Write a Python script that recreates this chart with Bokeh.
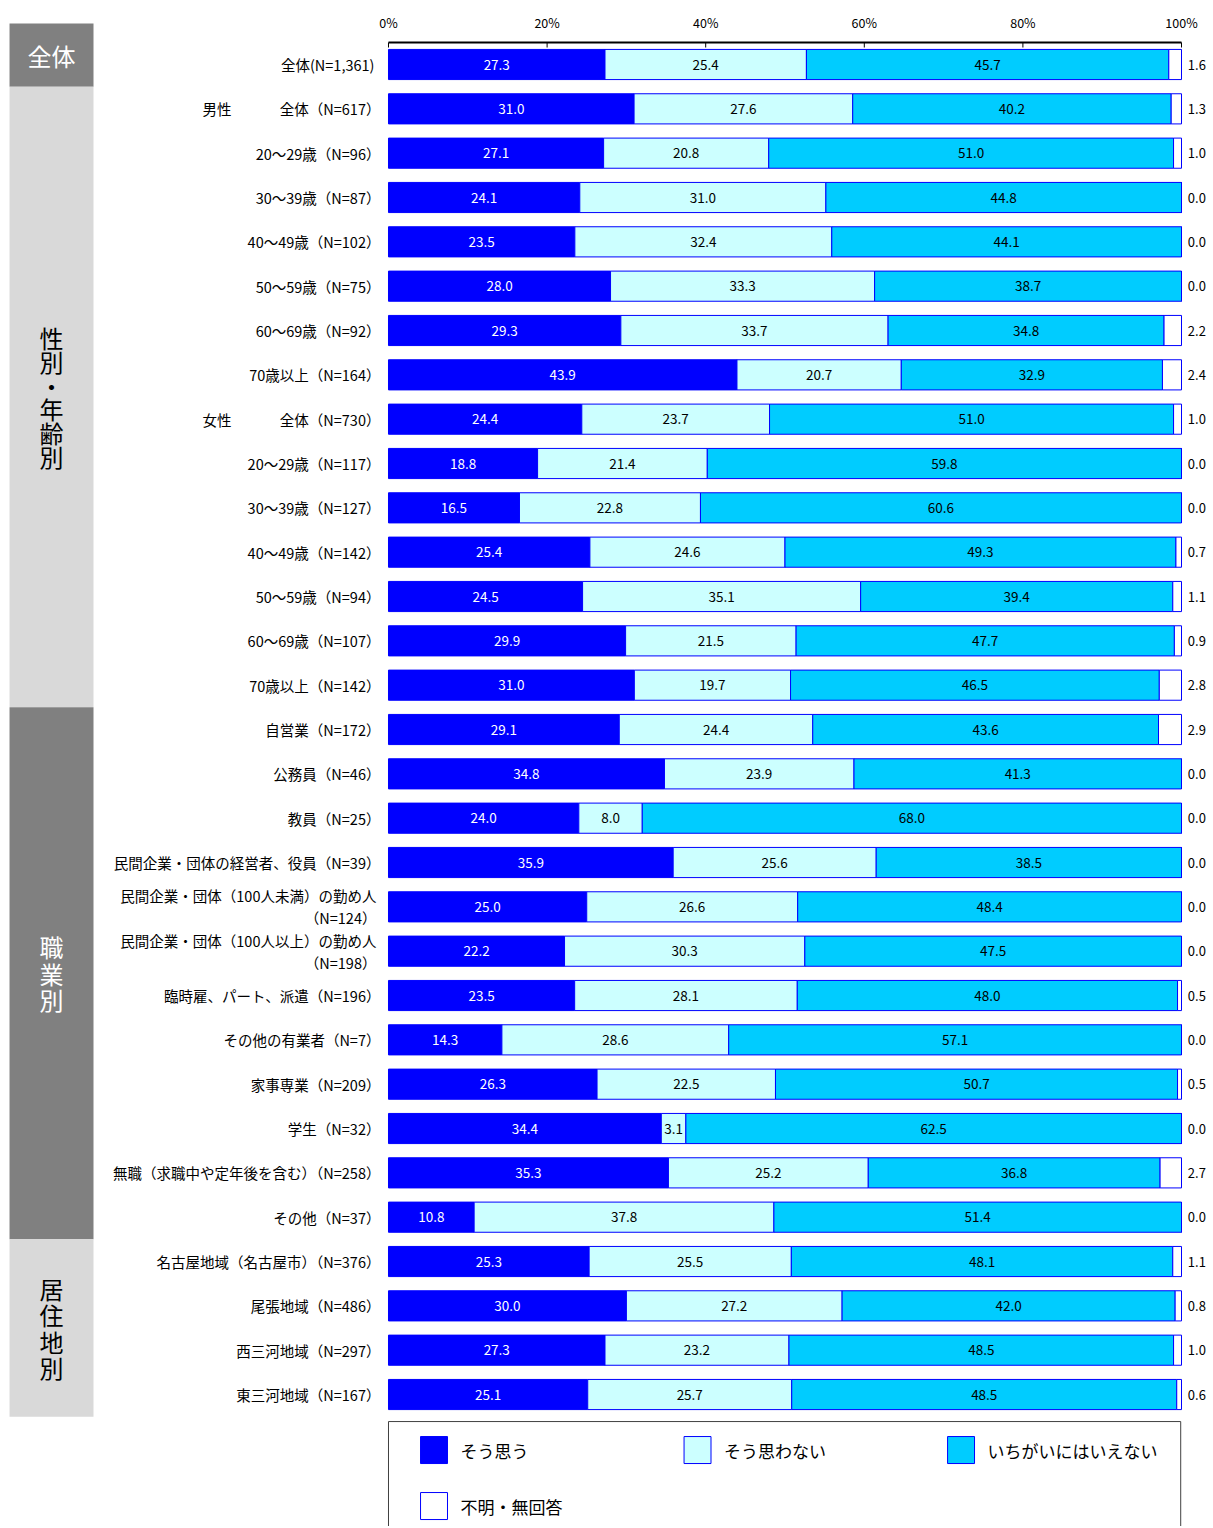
from bokeh.plotting import figure
from bokeh.models import Range1d, ColumnDataSource
from bokeh.embed import file_html
from bokeh.resources import INLINE
from bokeh.core.properties import value

# ---------------- data ----------------
categories = [
    "全体(N=1,361)",
    "全体（N=617）",
    "20～29歳（N=96）",
    "30～39歳（N=87）",
    "40～49歳（N=102）",
    "50～59歳（N=75）",
    "60～69歳（N=92）",
    "70歳以上（N=164）",
    "全体（N=730）",
    "20～29歳（N=117）",
    "30～39歳（N=127）",
    "40～49歳（N=142）",
    "50～59歳（N=94）",
    "60～69歳（N=107）",
    "70歳以上（N=142）",
    "自営業（N=172）",
    "公務員（N=46）",
    "教員（N=25）",
    "民間企業・団体の経営者、役員（N=39）",
    "民間企業・団体（100人未満）の勤め人\n（N=124）",
    "民間企業・団体（100人以上）の勤め人\n（N=198）",
    "臨時雇、パート、派遣（N=196）",
    "その他の有業者（N=7）",
    "家事専業（N=209）",
    "学生（N=32）",
    "無職（求職中や定年後を含む）（N=258）",
    "その他（N=37）",
    "名古屋地域（名古屋市）（N=376）",
    "尾張地域（N=486）",
    "西三河地域（N=297）",
    "東三河地域（N=167）",
]
sex_labels = ["男性", "女性"]
sex_rows = [1, 8]

agree = [27.3, 31.0, 27.1, 24.1, 23.5, 28.0, 29.3, 43.9, 24.4, 18.8, 16.5, 25.4, 24.5, 29.9, 31.0,
         29.1, 34.8, 24.0, 35.9, 25.0, 22.2, 23.5, 14.3, 26.3, 34.4, 35.3, 10.8,
         25.3, 30.0, 27.3, 25.1]
disagree = [25.4, 27.6, 20.8, 31.0, 32.4, 33.3, 33.7, 20.7, 23.7, 21.4, 22.8, 24.6, 35.1, 21.5, 19.7,
            24.4, 23.9, 8.0, 25.6, 26.6, 30.3, 28.1, 28.6, 22.5, 3.1, 25.2, 37.8,
            25.5, 27.2, 23.2, 25.7]
neutral = [45.7, 40.2, 51.0, 44.8, 44.1, 38.7, 34.8, 32.9, 51.0, 59.8, 60.6, 49.3, 39.4, 47.7, 46.5,
           43.6, 41.3, 68.0, 38.5, 48.4, 47.5, 48.0, 57.1, 50.7, 62.5, 36.8, 51.4,
           48.1, 42.0, 48.5, 48.5]
unknown = [1.6, 1.3, 1.0, 0.0, 0.0, 0.0, 2.2, 2.4, 1.0, 0.0, 0.0, 0.7, 1.1, 0.9, 2.8,
           2.9, 0.0, 0.0, 0.0, 0.0, 0.0, 0.5, 0.0, 0.5, 0.0, 2.7, 0.0,
           1.1, 0.8, 1.0, 0.6]

series_names = ["そう思う", "そう思わない", "いちがいにはいえない", "不明・無回答"]
series_colors = ["#0000FF", "#CCFFFF", "#00CCFF", "#FFFFFF"]
label_colors = ["#FFFFFF", "#000000", "#000000", "#000000"]

section_names = ["全体", "性別・年齢別", "職業別", "居住地別"]
section_sizes = [1, 14, 12, 4]
section_fill = ["#808080", "#D9D9D9", "#808080", "#D9D9D9"]
section_text = ["#FFFFFF", "#000000", "#FFFFFF", "#000000"]

x_ticks = [0, 20, 40, 60, 80, 100]

# ---------------- layout constants ----------------
FONT = "Noto Sans CJK JP"
n = len(categories)
ys = list(range(n))
BAR_H = 0.68
AXIS_Y = -0.4962          # axis line just above first bar
TICK_LEN = 0.113
TICK_LABEL_Y = -0.95

p = figure(width=1210, height=1526, output_backend="svg", toolbar_location=None,
           x_range=Range1d(-48.928, 103.657), y_range=Range1d(32.977, -1.4436),
           x_axis_location=None, y_axis_location=None,
           min_border_top=0, min_border_left=0, min_border_right=0, min_border_bottom=0)
p.outline_line_color = None
p.xgrid.visible = False
p.ygrid.visible = False

# ---------------- percentage axis (top) ----------------
p.segment(x0=[min(x_ticks)], y0=[AXIS_Y], x1=[max(x_ticks)], y1=[AXIS_Y],
          line_color="#000000", line_width=2)
p.segment(x0=x_ticks, y0=[AXIS_Y] * len(x_ticks), x1=x_ticks,
          y1=[AXIS_Y + TICK_LEN] * len(x_ticks), line_color="#000000", line_width=1)
p.text(x=x_ticks, y=[TICK_LABEL_Y] * len(x_ticks), text=[f"{t}%" for t in x_ticks],
       text_align="center", text_baseline="middle", text_color="#000000",
       text_font=value(FONT), text_font_size="12.5px")

# ---------------- stacked bars ----------------
series = [agree, disagree, neutral, unknown]
totals = [sum(vals) for vals in zip(*series)]
left = [0.0] * n
for k, vals in enumerate(series):
    widths = [v * 100.0 / t for v, t in zip(vals, totals)]
    right = [l + w for l, w in zip(left, widths)]
    src = ColumnDataSource(dict(y=ys, left=left, right=right,
                                mid=[(l + r) / 2 for l, r in zip(left, right)],
                                txt=[f"{v:.1f}" for v in vals]))
    p.hbar(y="y", left="left", right="right", height=BAR_H, source=src,
           fill_color=series_colors[k], line_color="#0000FF", line_width=1)
    if k < 3:
        p.text(x="mid", y="y", text="txt", source=src, text_align="center",
               text_baseline="middle", text_color=label_colors[k],
               text_font=value(FONT), text_font_size="13.5px")
    else:
        p.text(x=[100.8] * n, y=ys, text=src.data["txt"], text_align="left",
               text_baseline="middle", text_color="#000000",
               text_font=value(FONT), text_font_size="13px")
    left = right

# ---------------- category labels ----------------
# full-width closing parenthesis carries blank space on its right in this font
lab_offsets = [(2 if "\n" in c else 6) if c.endswith("）") else 0 for c in categories]
p.text(x=[-1.77] * n, y=ys, text=categories, x_offset=lab_offsets,
       text_align="right", text_baseline="middle",
       text_color="#000000", text_font=value(FONT), text_font_size="14.5px",
       text_line_height=1.05)
p.text(x=[-23.45] * len(sex_labels), y=sex_rows, text=sex_labels, text_align="left",
       text_baseline="middle", text_color="#000000", text_font=value(FONT),
       text_font_size="14.5px")

# ---------------- section side bar ----------------
SB_L, SB_R = -47.79, -37.20
tops, bottoms = [], []
start = -0.5
for k, size in enumerate(section_sizes):
    tops.append(start - (0.425 if k == 0 else 0.0))
    bottoms.append(start + size)
    start += size
p.quad(left=[SB_L] * 4, right=[SB_R] * 4, top=tops, bottom=bottoms,
       fill_color=section_fill, line_color=None)
for k, name in enumerate(section_names):
    if k == 0:
        txt, lh = name, 1.2
    else:
        txt = "\n".join(name)
        lh = 0.68 if len(name) > 4 else 0.76
    p.text(x=[(SB_L + SB_R) / 2], y=[(tops[k] + bottoms[k]) / 2], text=[txt],
           text_align="center", text_baseline="middle", text_color=section_text[k],
           text_font=value(FONT), text_font_size="24px", text_line_height=lh)

# ---------------- legend box ----------------
p.quad(left=[0], right=[99.9], top=[30.61], bottom=[34.0], fill_color=None,
       line_color="#404040", line_width=1)
col_step = 33.23
row_step = 1.263
sq_l, sq_r = 4.04, 7.44
sq_t, sq_b = 30.948, 31.557
lg_left, lg_right, lg_top, lg_bot, lg_tx, lg_ty = [], [], [], [], [], []
for i in range(len(series_names)):
    c, r = i % 3, i // 3
    lg_left.append(sq_l + c * col_step)
    lg_right.append(sq_r + c * col_step)
    lg_top.append(sq_t + r * row_step)
    lg_bot.append(sq_b + r * row_step)
    lg_tx.append(9.08 + c * col_step)
    lg_ty.append((sq_t + sq_b) / 2 + r * row_step)
p.quad(left=lg_left, right=lg_right, top=lg_top, bottom=lg_bot,
       fill_color=series_colors, line_color="#0000FF", line_width=1)
p.text(x=lg_tx, y=lg_ty, text=series_names, text_align="left", text_baseline="middle",
       text_color="#000000", text_font=value(FONT), text_font_size="17px")

open("out.html", "w").write(file_html(p, INLINE))
